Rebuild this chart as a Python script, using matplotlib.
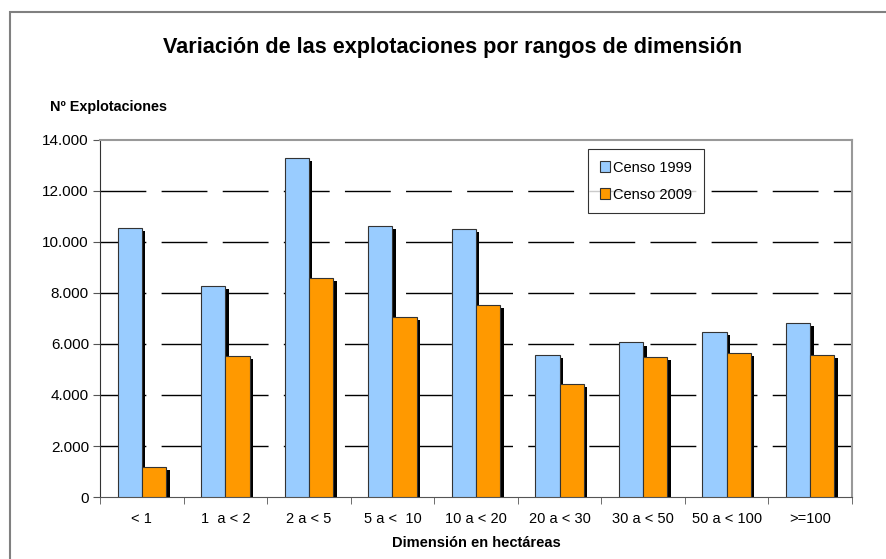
import matplotlib.pyplot as plt
import matplotlib.patheffects as pe
from matplotlib.patches import Rectangle
from matplotlib.ticker import FuncFormatter
import numpy as np

plt.rcParams['font.family'] = ['Liberation Sans', 'DejaVu Sans']

categorias = ['< 1', '1  a < 2', '2 a < 5', '5 a <  10', '10 a < 20',
              '20 a < 30', '30 a < 50', '50 a < 100', '>=100']
censo_1999 = [10550, 8280, 13290, 10620, 10510, 5560, 6060, 6470, 6820]
censo_2009 = [1180, 5530, 8580, 7050, 7530, 4420, 5500, 5650, 5580]

fig = plt.figure(figsize=(8.86, 5.59), dpi=100)
ax = fig.add_axes([0.1129, 0.1109, 0.8487, 0.6387])

# marco exterior del grafico
fig.patches.append(Rectangle((10 / 886, -0.1), 1.2, 1 - 12 / 559 + 0.1,
                             transform=fig.transFigure, fill=False,
                             edgecolor='#808080', linewidth=1.5))

x = np.arange(len(categorias))
ancho = 0.29
sombra = [pe.SimplePatchShadow(offset=(2.5, -2.2), shadow_rgbFace='black', alpha=1), pe.Normal()]

b1 = ax.bar(x - ancho / 2, censo_1999, ancho, color='#99CCFF', edgecolor='#333333',
            linewidth=0.8, label='Censo 1999', zorder=3)
b2 = ax.bar(x + ancho / 2, censo_2009, ancho, color='#FF9900', edgecolor='#333333',
            linewidth=0.8, label='Censo 2009', zorder=4)
for b in list(b1) + list(b2):
    b.set_path_effects(sombra)

ax.set_xlim(-0.5, len(categorias) - 0.5)
ax.set_ylim(0, 14000)
ax.set_yticks(np.arange(0, 14001, 2000))
ax.yaxis.set_major_formatter(FuncFormatter(lambda v, p: f'{int(v):,}'.replace(',', '.')))
ax.set_xticks(x)
ax.set_xticklabels(categorias, fontsize=10.5)
ax.set_xticks(np.arange(-0.5, len(categorias), 1), minor=True)
ax.tick_params(axis='x', which='major', length=0, pad=11)
ax.tick_params(axis='x', which='minor', length=5, direction='out', color='#555555')
ax.tick_params(axis='y', length=5, direction='out', labelsize=11, color='#555555', pad=3)

for v in range(2000, 14000, 2000):
    ax.axhline(v, color='black', linewidth=1, dashes=(33, 11), zorder=1)

for s in ['top', 'right']:
    ax.spines[s].set_color('#999999')
ax.spines['left'].set_color('#333333')
ax.spines['bottom'].set_color('#555555')
ax.spines['top'].set_linewidth(1.5)
ax.spines['right'].set_linewidth(1.5)

fig.text(453 / 886, 1 - 47 / 559, 'Variación de las explotaciones por rangos de dimensión',
         ha='center', va='center', fontsize=15.6, fontweight='bold')
fig.text(50 / 886, 1 - 107 / 559, 'Nº Explotaciones', ha='left', va='center',
         fontsize=10.4, fontweight='bold')
ax.set_xlabel('Dimensión en hectáreas', fontsize=10.5, fontweight='bold', labelpad=7)

leg = ax.legend(loc='upper left', bbox_to_anchor=(0.649, 0.975), fontsize=10.5,
                frameon=True, fancybox=False, handlelength=0.7, handleheight=0.7,
                handletextpad=0.2, labelspacing=0.9, borderpad=0.8, borderaxespad=0)
leg.get_frame().set_edgecolor('black')
leg.get_frame().set_linewidth(0.8)
for h in leg.legend_handles:
    h.set_path_effects([])

fig.savefig('out.png', dpi=100)
